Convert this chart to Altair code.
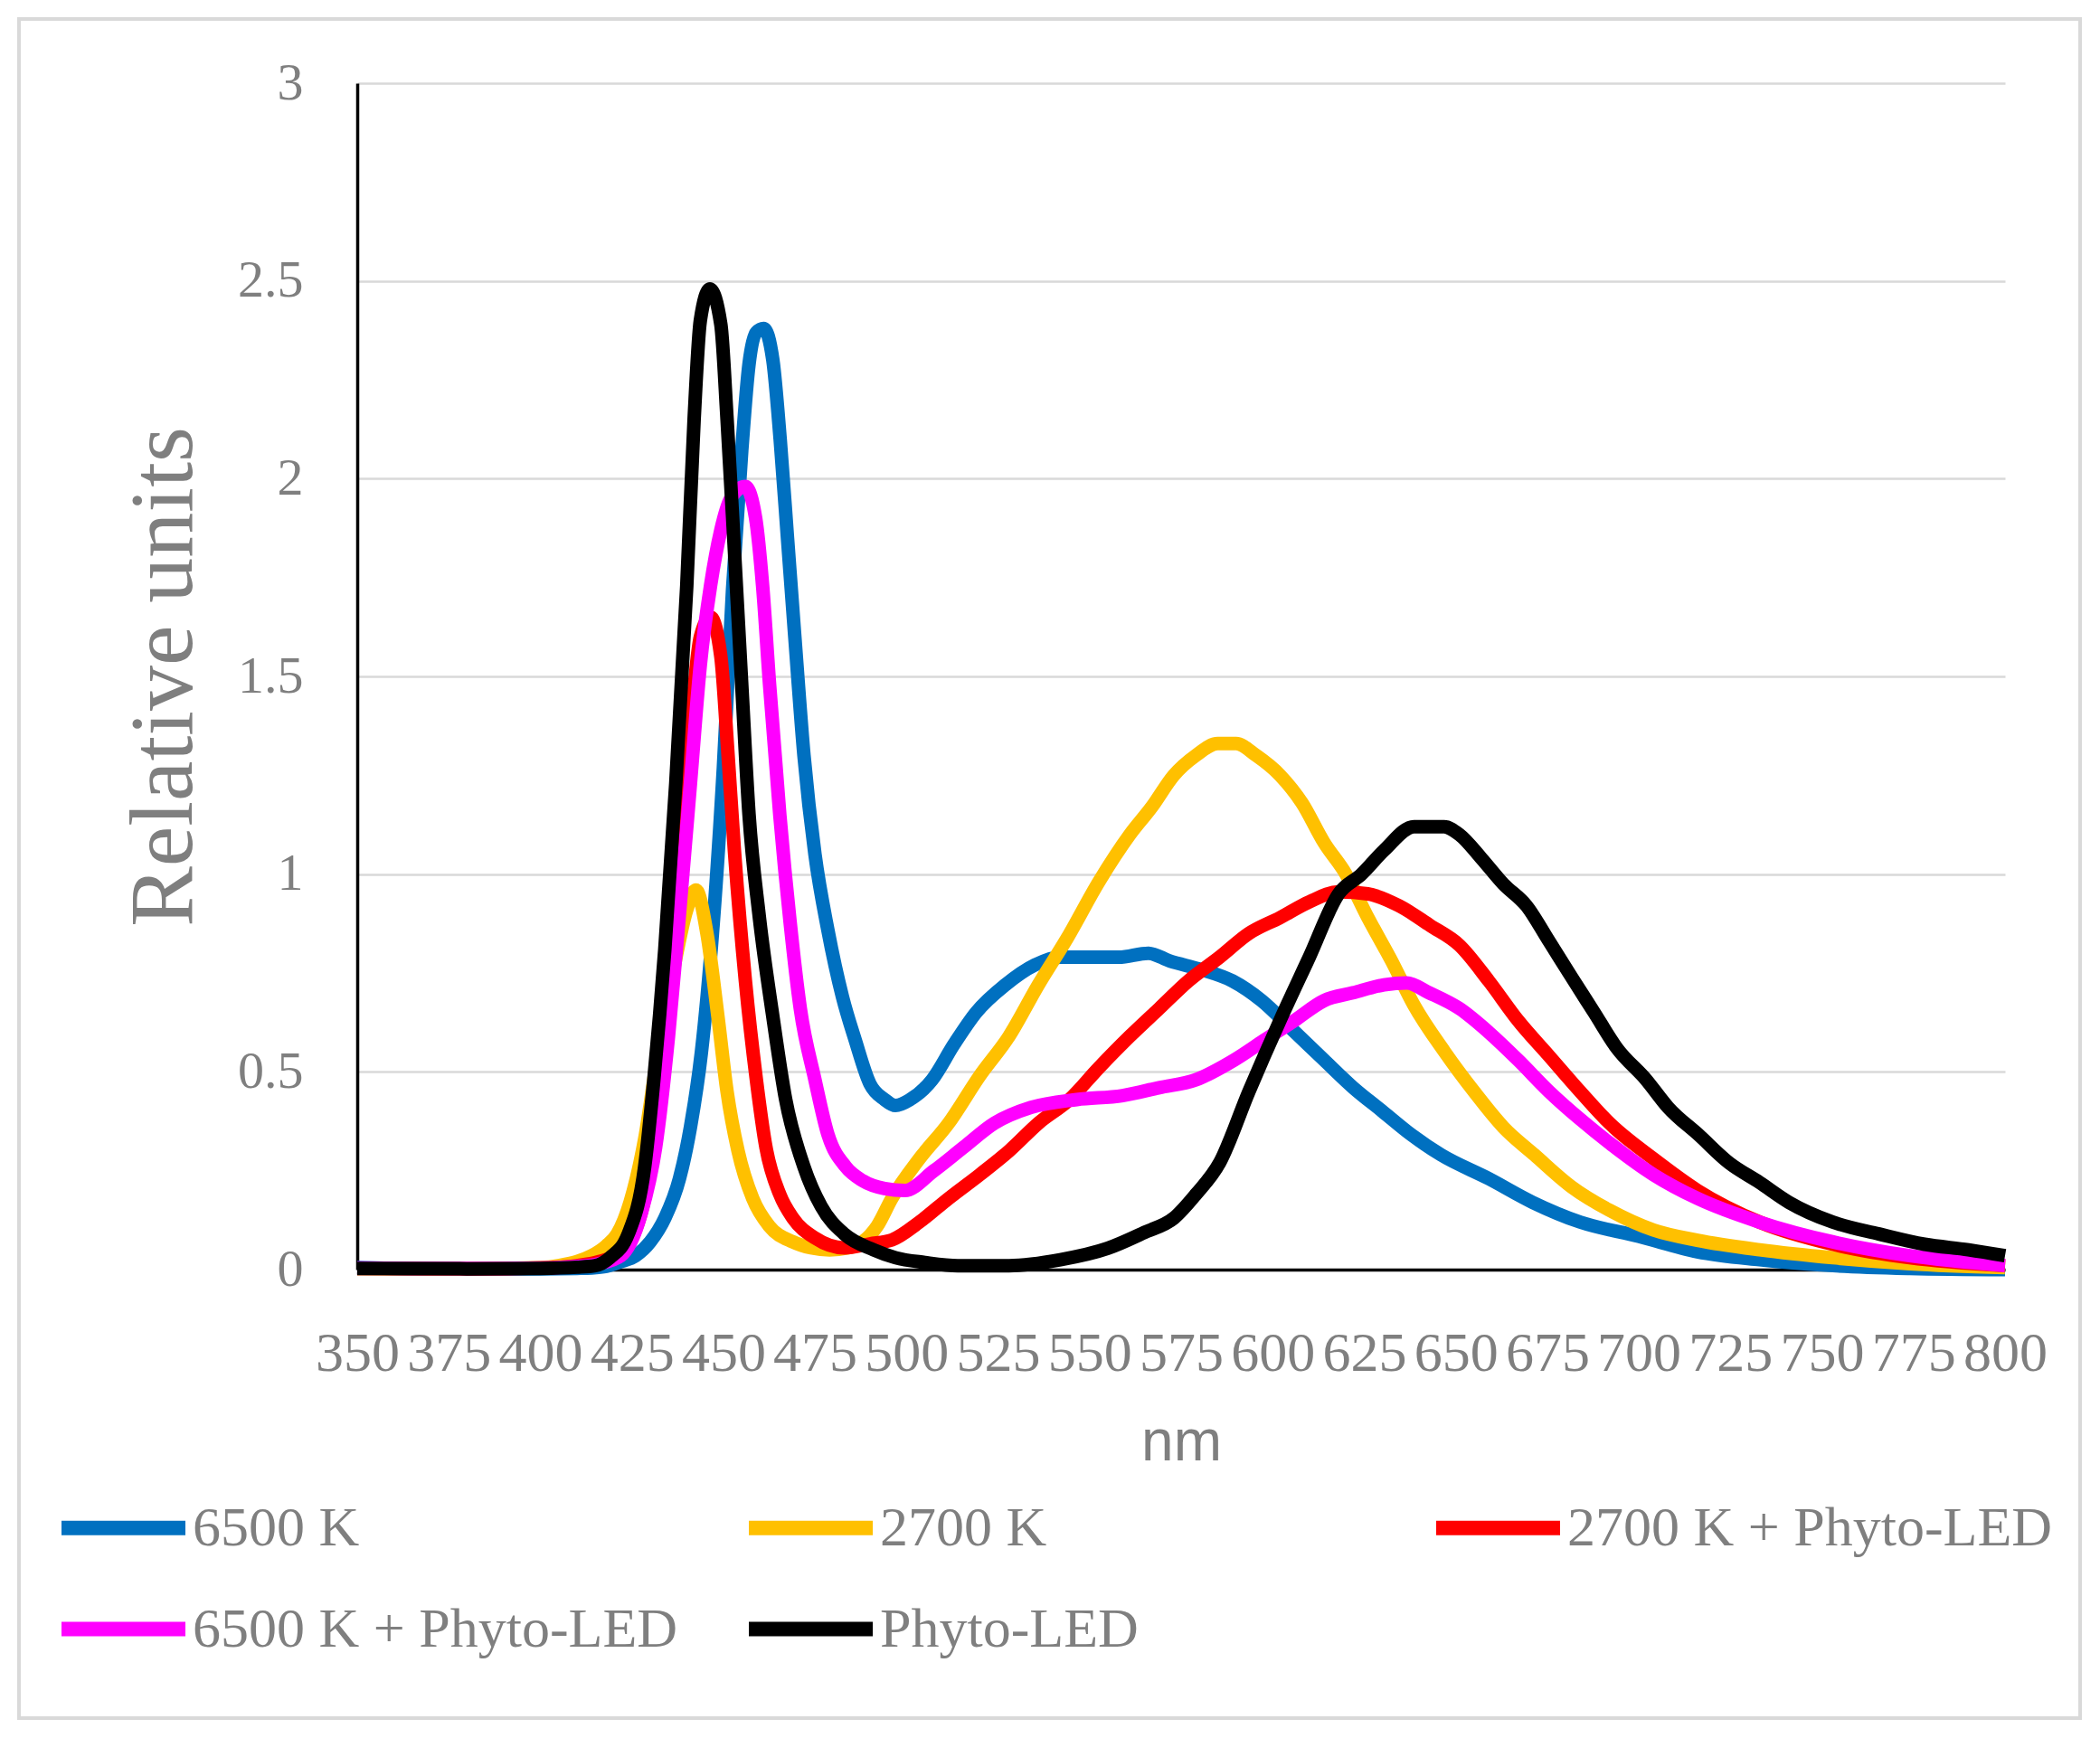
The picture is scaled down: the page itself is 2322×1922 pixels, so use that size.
import altair as alt
import pandas as pd

series_names = ["6500 K", "2700 K", "2700 K + Phyto-LED", "6500 K + Phyto-LED", "Phyto-LED"]
series_colors = ["#0070C0", "#FFC000", "#FF0000", "#FF00FF", "#000000"]

# 6500 K
nm_6500 = [350, 360, 370, 380, 390, 400, 410, 414, 418, 422, 426, 430, 434, 438, 441, 444, 447, 450,
           452.5, 455, 457, 459, 461, 463.5, 465.5, 467.5, 469.5, 472, 475, 478.5, 482.5, 486, 490, 494,
           497, 501, 507, 513, 519, 527, 535, 542, 550, 558, 566, 572, 580, 589, 597, 605, 614, 622,
           630, 638, 646, 659, 671, 684, 700, 716, 733, 753, 774, 800]
val_6500 = [0.005, 0.003, 0.002, 0.002, 0.002, 0.002, 0.003, 0.004, 0.008, 0.02, 0.035, 0.07, 0.13,
            0.23, 0.36, 0.55, 0.85, 1.27, 1.72, 2.07, 2.29, 2.37, 2.38, 2.30, 2.10, 1.85, 1.60, 1.30,
            1.05, 0.86, 0.69, 0.58, 0.47, 0.43, 0.415, 0.43, 0.48, 0.57, 0.65, 0.72, 0.77, 0.79, 0.79,
            0.79, 0.80, 0.78, 0.76, 0.73, 0.68, 0.61, 0.53, 0.46, 0.40, 0.34, 0.29, 0.23, 0.17, 0.12,
            0.084, 0.045, 0.025, 0.01, 0.003, 0.0]

# 2700 K
nm_2700 = [350, 370, 390, 400, 405, 410, 414, 418, 421, 424.5, 428.5, 432, 436, 440, 442.5, 445.5,
           448.5, 451, 454, 458, 462.5, 469, 474, 479, 484, 488, 492, 496, 503.5, 511.5, 520, 528, 536,
           544, 552.5, 561, 567, 573, 579, 585, 590, 595.5, 602, 608, 614, 620, 626, 632.5, 638.5, 647,
           655, 663, 671.5, 681.5, 692, 704, 716, 733, 753, 774, 800]
val_2700 = [0.003, 0.002, 0.003, 0.005, 0.01, 0.02, 0.035, 0.06, 0.09, 0.17, 0.33, 0.54, 0.74, 0.91,
            0.96, 0.85, 0.64, 0.45, 0.30, 0.18, 0.11, 0.07, 0.055, 0.05, 0.055, 0.07, 0.11, 0.18, 0.28,
            0.37, 0.49, 0.59, 0.72, 0.84, 0.98, 1.10, 1.17, 1.25, 1.30, 1.33, 1.33, 1.30, 1.25, 1.18,
            1.08, 1.00, 0.89, 0.78, 0.67, 0.55, 0.45, 0.36, 0.29, 0.21, 0.15, 0.10, 0.074, 0.05, 0.03,
            0.015, 0.005]

# 2700 K + Phyto-LED
nm_2700p = [350, 380, 400, 410, 416, 422, 426, 428.5, 431.5, 435, 438, 441, 443.7, 446.5, 449.3,
            451.2, 453, 456, 459, 461.6, 465.4, 469, 475, 483, 490, 496, 503.5, 511.5, 520, 528, 536,
            544.5, 552.5, 561, 569, 577, 585.5, 593.5, 602, 610, 618, 626, 634.5, 643, 651, 659, 667,
            675.5, 684, 692, 704, 716, 733, 753, 774, 800]
val_2700p = [0.003, 0.002, 0.004, 0.01, 0.02, 0.045, 0.10, 0.18, 0.34, 0.72, 1.06, 1.37, 1.60, 1.65,
             1.55, 1.31, 1.06, 0.73, 0.48, 0.31, 0.19, 0.13, 0.08, 0.055, 0.065, 0.075, 0.12, 0.18,
             0.24, 0.30, 0.37, 0.43, 0.51, 0.59, 0.66, 0.73, 0.79, 0.85, 0.89, 0.93, 0.955, 0.95, 0.92,
             0.87, 0.82, 0.73, 0.63, 0.54, 0.45, 0.37, 0.28, 0.20, 0.12, 0.064, 0.03, 0.01]

# 6500 K + Phyto-LED
nm_6500p = [350, 370, 390, 400, 410, 416, 422, 427.5, 431.5, 435, 438, 441, 443.7, 446.5, 449.3, 452,
            456, 458.8, 460.7, 462.6, 465.4, 468.2, 471, 475, 478.6, 483.4, 488, 494, 499.5, 507.5,
            515.7, 524, 534, 546.5, 559, 569, 579, 589.5, 597.7, 606, 614, 622, 630.4, 636.6, 642.7,
            651, 659, 667, 675.5, 684, 692, 704, 716, 733, 753, 774, 800]
val_6500p = [0.004, 0.003, 0.003, 0.004, 0.008, 0.015, 0.035, 0.14, 0.31, 0.59, 0.90, 1.23, 1.53,
             1.73, 1.87, 1.95, 1.98, 1.90, 1.73, 1.48, 1.15, 0.88, 0.66, 0.48, 0.34, 0.26, 0.225,
             0.205, 0.20, 0.25, 0.31, 0.37, 0.41, 0.43, 0.44, 0.46, 0.48, 0.53, 0.58, 0.63, 0.68, 0.70,
             0.72, 0.725, 0.70, 0.66, 0.60, 0.53, 0.45, 0.38, 0.32, 0.24, 0.18, 0.12, 0.07, 0.035, 0.01]

# Phyto-LED
nm_phyto = [350, 380, 400, 410, 415, 419, 424, 428.5, 431, 434, 437, 440, 442, 443.7, 446.3, 449.3,
            451, 453, 455, 457, 459.7, 463.5, 467, 472, 476.7, 483, 491, 497, 505, 514, 528, 542, 555,
            565, 573, 579, 585.5, 593.5, 602, 610, 618, 624.3, 630.4, 638.6, 646.8, 651, 657, 663,
            669.3, 675.5, 681.6, 687.8, 694, 702, 708, 716.4, 724.6, 733, 741, 753, 765.6, 778, 790, 800]
val_phyto = [0.003, 0.002, 0.003, 0.006, 0.01, 0.03, 0.09, 0.26, 0.48, 0.81, 1.23, 1.73, 2.15, 2.40,
             2.48, 2.39, 2.15, 1.82, 1.48, 1.15, 0.90, 0.64, 0.43, 0.26, 0.16, 0.09, 0.05, 0.03, 0.018,
             0.01, 0.01, 0.025, 0.054, 0.094, 0.13, 0.19, 0.27, 0.45, 0.63, 0.79, 0.95, 1.00, 1.06,
             1.12, 1.12, 1.10, 1.04, 0.975, 0.92, 0.83, 0.74, 0.65, 0.56, 0.48, 0.41, 0.34, 0.27, 0.22,
             0.17, 0.12, 0.09, 0.064, 0.05, 0.035]

x_ticks = list(range(350, 801, 25))
y_ticks = [0, 0.5, 1, 1.5, 2, 2.5, 3]

nm_lists = [nm_6500, nm_2700, nm_2700p, nm_6500p, nm_phyto]
val_lists = [val_6500, val_2700, val_2700p, val_6500p, val_phyto]

rows = []
for name, xs, ys in zip(series_names, nm_lists, val_lists):
    for x, y in zip(xs, ys):
        rows.append({"nm": x, "value": y, "series": name})
data = pd.DataFrame(rows)

gray = "#7f7f7f"
serif = "Liberation Serif"

lines = alt.Chart(data).mark_line(
    strokeWidth=15, strokeJoin="round", interpolate="monotone"
).encode(
    x=alt.X("nm:Q",
            scale=alt.Scale(domain=[350, 800], nice=False, zero=False),
            axis=alt.Axis(values=x_ticks, title="nm", grid=False, ticks=False,
                          labelFont=serif, labelFontSize=62, labelColor=gray,
                          labelPadding=62, labelOverlap=False, labelFlush=False,
                          titleFont="Liberation Sans", titleFontSize=64,
                          titleFontWeight="normal", titleColor=gray, titlePadding=36,
                          domainColor="black", domainWidth=3.5)),
    y=alt.Y("value:Q",
            scale=alt.Scale(domain=[0, 3], nice=False),
            axis=alt.Axis(values=y_ticks, format="~g", title="Relative units",
                          grid=True, gridColor="#d9d9d9", gridWidth=2.5, ticks=False,
                          labelFont=serif, labelFontSize=58, labelColor=gray,
                          labelPadding=60,
                          titleFont=serif, titleFontSize=100, titleFontWeight="normal",
                          titleColor=gray, titlePadding=30,
                          domainColor="black", domainWidth=3.5)),
    color=alt.Color("series:N",
                    scale=alt.Scale(domain=series_names, range=series_colors),
                    legend=alt.Legend(title=None, orient="none", legendX=-335, legendY=1521,
                                      direction="horizontal", columns=3, gridAlign="all",
                                      columnPadding=46, rowPadding=3,
                                      symbolType="stroke", symbolSize=18769,
                                      symbolStrokeWidth=16, labelFont=serif,
                                      labelFontSize=62, labelColor=gray, labelOffset=0,
                                      labelLimit=1000)),
)

frame = alt.Chart(alt.Data(values=[{}])).mark_rect(
    filled=False, stroke="#d9d9d9", strokeWidth=4
).encode(
    x=alt.value(-374), x2=alt.value(1905), y=alt.value(-71), y2=alt.value(1808)
)

chart = alt.layer(frame, lines).properties(
    width=1822, height=1312, autosize="none",
    padding={"left": 387, "top": 84, "right": 85, "bottom": 500},
    background="white",
).configure_view(stroke=None)

chart.save("out.html", embed_options={"renderer": "svg", "actions": False})
